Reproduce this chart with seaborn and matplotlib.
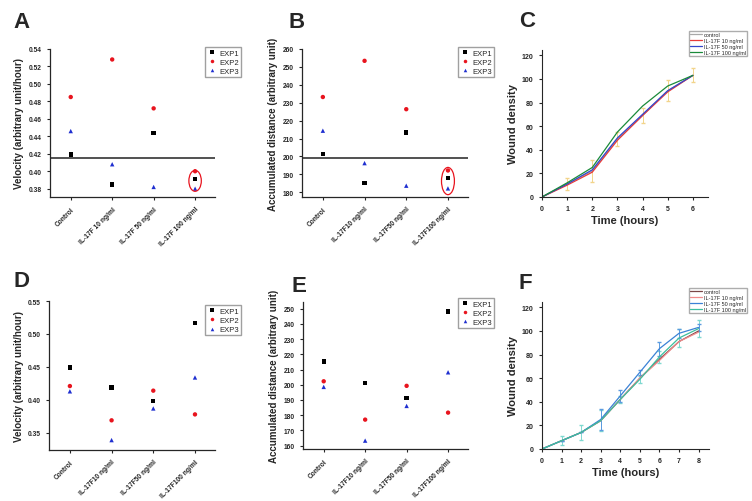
import numpy as np
import pandas as pd
import matplotlib
matplotlib.use("Agg")
import matplotlib.pyplot as plt
import seaborn as sns
from matplotlib.patches import Ellipse

sns.set_style("ticks")
plt.rcParams['font.family'] = ['Liberation Sans', 'DejaVu Sans']

# dane - panele punktowe
exps = ["EXP1", "EXP2", "EXP3"]
cats_a = ["Control", "IL-17F 10 ng/ml", "IL-17F 50 ng/ml", "IL-17F 100 ng/ml"]
cats_b = ["Control", "IL-17F10 ng/ml", "IL-17F50 ng/ml", "IL-17F100 ng/ml"]

vel_a = {"EXP1": [0.419, 0.385, 0.444, 0.391],
         "EXP2": [0.485, 0.528, 0.472, 0.400],
         "EXP3": [0.446, 0.408, 0.382, 0.380]}
dist_b = {"EXP1": [201.3, 185.3, 213.5, 188.0],
          "EXP2": [233.2, 253.4, 226.4, 192.2],
          "EXP3": [214.4, 196.3, 183.7, 182.2]}
vel_d = {"EXP1": [0.449, 0.419, 0.398, 0.517],
         "EXP2": [0.421, 0.369, 0.414, 0.378],
         "EXP3": [0.413, 0.339, 0.387, 0.434]}
dist_e = {"EXP1": [215.3, 201.2, 191.4, 248.2],
          "EXP2": [202.3, 177.1, 199.3, 181.7],
          "EXP3": [198.6, 163.3, 186.1, 208.2]}

# dane - krzywe gojenia
groups = ["control", "IL-17F 10 ng/ml", "IL-17F 50 ng/ml", "IL-17F 100 ng/ml"]
time_c = [0, 1, 2, 3, 4, 5, 6]
wound_c = {"control": [0, 11, 22, 49, 69, 90, 103],
           "IL-17F 10 ng/ml": [0, 10, 21, 48, 69, 89, 103],
           "IL-17F 50 ng/ml": [0, 11, 23, 50, 70, 90, 103],
           "IL-17F 100 ng/ml": [0, 12, 25, 55, 77, 94, 103]}
err_c = [0, 5, 9, 6, 6, 9, 6]

time_f = [0, 1, 2, 3, 4, 5, 6, 7, 8]
wound_f = {"control": [0, 7, 14, 24, 42, 60, 76, 91, 100],
           "IL-17F 10 ng/ml": [0, 7, 14, 24, 42, 60, 75, 91, 99],
           "IL-17F 50 ng/ml": [0, 7, 14, 25, 45, 65, 85, 98, 103],
           "IL-17F 100 ng/ml": [0, 7, 14, 24, 42, 59, 78, 94, 102]}
err_f_50 = [0, 0, 0, 9, 5, 2, 6, 4, 3]
err_f_100 = [0, 4, 6, 9, 3, 3, 5, 8, 7]

exp_colors = {"EXP1": "black", "EXP2": "#e8141e", "EXP3": "#1f2fd0"}
exp_markers = {"EXP1": "s", "EXP2": "o", "EXP3": "^"}
colors_c = {"control": "#a8a8a8", "IL-17F 10 ng/ml": "#e83a3a",
            "IL-17F 50 ng/ml": "#3346cc", "IL-17F 100 ng/ml": "#1a8a3a"}
colors_f = {"control": "#7a4646", "IL-17F 10 ng/ml": "#f08a8a",
            "IL-17F 50 ng/ml": "#3b82d6", "IL-17F 100 ng/ml": "#3cbf9e"}


def to_long(vals, cats):
    rows = []
    for e in exps:
        for c, v in zip(cats, vals[e]):
            rows.append({"cat": c, "val": v, "exp": e})
    return pd.DataFrame(rows)


def scatter_panel(ax, vals, cats, ylabel, ylim, yticks, leg_xy):
    df = to_long(vals, cats)
    sns.scatterplot(data=df, x="cat", y="val", hue="exp", style="exp",
                    palette=exp_colors, markers=exp_markers, s=10,
                    edgecolor="none", ax=ax)
    ax.set_xlim(-0.5, 3.48)
    ax.set_ylim(*ylim)
    ax.set_yticks(yticks)
    ax.set_xticks(range(4))
    ax.set_xticklabels(cats, rotation=45, ha="right", rotation_mode="anchor",
                       fontsize=4.8, fontweight="bold")
    ax.tick_params(axis="y", labelsize=4.8, length=2.5, width=0.8)
    ax.tick_params(axis="x", length=2.5, width=0.8)
    for t in ax.get_yticklabels():
        t.set_fontweight("bold")
    ax.set_xlabel("")
    ax.set_ylabel(ylabel, fontsize=7, fontweight="bold", labelpad=3)
    sns.despine(ax=ax)
    for s in ["left", "bottom"]:
        ax.spines[s].set_linewidth(0.9)
    ax.legend(loc="upper left", bbox_to_anchor=leg_xy,
              bbox_transform=fig.transFigure, fontsize=5.5, frameon=True,
              fancybox=False, edgecolor="#888888", markerscale=0.8,
              handletextpad=0.3, borderpad=0.3, labelspacing=0.25,
              handlelength=1.2)


def line_panel(ax, times, data, colors, xlim, xticks):
    rows = []
    for g in groups:
        for t, v in zip(times, data[g]):
            rows.append({"time": t, "density": v, "group": g})
    df = pd.DataFrame(rows)
    sns.lineplot(data=df, x="time", y="density", hue="group",
                 palette=colors, linewidth=0.9, ax=ax)
    ax.set_xlim(*xlim)
    ax.set_ylim(0, 124.5)
    ax.set_xticks(xticks)
    ax.set_yticks(range(0, 121, 20))
    ax.tick_params(labelsize=5, length=2.5, width=0.8)
    for t in ax.get_xticklabels() + ax.get_yticklabels():
        t.set_fontweight("bold")
    ax.set_xlabel("Time (hours)", fontsize=8, fontweight="bold", labelpad=2)
    ax.set_ylabel("Wound density", fontsize=8, fontweight="bold", labelpad=3)
    sns.despine(ax=ax)


fig = plt.figure(figsize=(7.52, 5.02), dpi=100)

# A
axA = fig.add_axes([0.0665, 0.6056, 0.2194, 0.2948])
scatter_panel(axA, vel_a, cats_a, "Velocity (arbitrary unit/hour)",
              (0.3705, 0.54), np.arange(0.38, 0.541, 0.02), (0.268, 0.912))
axA.set_yticklabels([f"{v:.2f}" for v in np.arange(0.38, 0.541, 0.02)],
                    fontsize=4.8, fontweight="bold")
axA.axhline(0.415, color="#222222", lw=1.1)
axA.add_patch(Ellipse((3, 0.389), 0.3, 0.024, fill=False, ec="#e8141e", lw=0.9))

# B
axB = fig.add_axes([0.4016, 0.6056, 0.2207, 0.2948])
scatter_panel(axB, dist_b, cats_b, "Accumulated distance (arbitrary unit)",
              (177.4, 260), range(180, 261, 10), (0.6045, 0.912))
axB.axhline(199.2, color="#222222", lw=1.1)
axB.add_patch(Ellipse((3, 186.3), 0.31, 15.2, fill=False, ec="#e8141e", lw=0.9))

# C
axC = fig.add_axes([0.7207, 0.6056, 0.2207, 0.2928])
axC.errorbar(time_c, wound_c["control"], yerr=err_c, fmt="none",
             ecolor="#f2d48a", elinewidth=0.7, capsize=1.5, zorder=1)
line_panel(axC, time_c, wound_c, colors_c, (0, 6.6), range(0, 7))
axC.legend(loc="upper left", bbox_to_anchor=(0.912, 0.942),
           bbox_transform=fig.transFigure, fontsize=4, frameon=True,
           fancybox=False, edgecolor="#999999", handlelength=2.2,
           handletextpad=0.3, borderpad=0.25, labelspacing=0.15)

# D
axD = fig.add_axes([0.0652, 0.1016, 0.2207, 0.2968])
scatter_panel(axD, vel_d, cats_b, "Velocity (arbitrary unit/hour)",
              (0.324, 0.55), [0.35, 0.40, 0.45, 0.50, 0.55], (0.268, 0.398))
axD.set_yticklabels(["0.35", "0.40", "0.45", "0.50", "0.55"],
                    fontsize=4.8, fontweight="bold")

# E
axE = fig.add_axes([0.4029, 0.1036, 0.2194, 0.2928])
scatter_panel(axE, dist_e, cats_b, "Accumulated distance (arbitrary unit)",
              (157.8, 254.4), range(160, 251, 10), (0.6045, 0.412))

# F
axF = fig.add_axes([0.7207, 0.1036, 0.2221, 0.2928])
axF.errorbar(time_f, wound_f["IL-17F 100 ng/ml"], yerr=err_f_100, fmt="none",
             ecolor="#7fd8d0", elinewidth=0.7, capsize=1.5, zorder=1)
axF.errorbar(time_f, wound_f["IL-17F 50 ng/ml"], yerr=err_f_50, fmt="none",
             ecolor="#5b9be0", elinewidth=0.7, capsize=1.5, zorder=1)
line_panel(axF, time_f, wound_f, colors_f, (0, 8.53), range(0, 9))
axF.legend(loc="upper left", bbox_to_anchor=(0.912, 0.43),
           bbox_transform=fig.transFigure, fontsize=4, frameon=True,
           fancybox=False, edgecolor="#999999", handlelength=2.2,
           handletextpad=0.3, borderpad=0.25, labelspacing=0.15)

# litery paneli
for lab, x, y in [("A", 0.018, 0.955), ("B", 0.383, 0.955), ("C", 0.69, 0.958),
                  ("D", 0.018, 0.44), ("E", 0.388, 0.43), ("F", 0.69, 0.435)]:
    fig.text(x, y, lab, fontsize=16, fontweight="bold", va="center")

fig.savefig("out.png", dpi=100)
